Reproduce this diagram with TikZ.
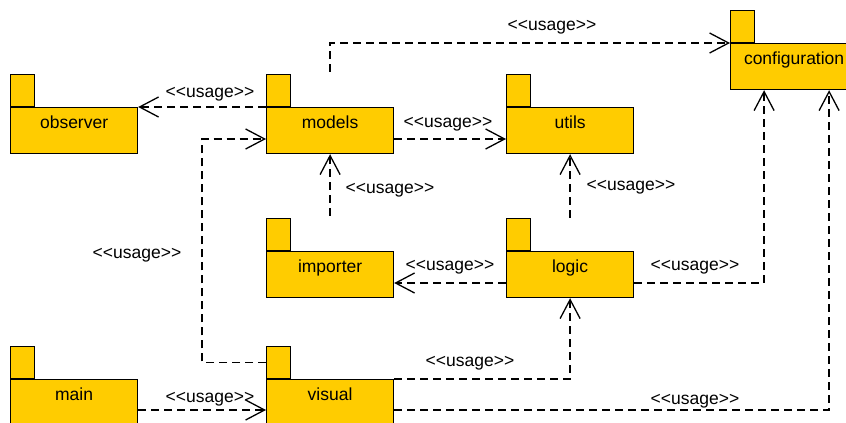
\documentclass[tikz,border=0pt]{standalone}
\usepackage{fontspec}
\setmainfont{Liberation Sans}
\usetikzlibrary{arrows.meta}

\definecolor{pkgyellow}{RGB}{255,204,0}
\newcommand{\usagetxt}{<\kern0pt<usage>\kern0pt>}

\tikzset{
    pkg/.style={draw, fill=pkgyellow, line width=1.2pt, minimum width=127pt, minimum height=46pt,
        inner sep=0pt, text height=13pt, text depth=17pt, anchor=north west},
    pkgtab/.style={draw, fill=pkgyellow, line width=1.2pt, minimum width=24pt, minimum height=32pt,
        inner sep=0pt, anchor=south west},
    dep/.style={line width=1.3pt, dash pattern=on 8pt off 5pt, -{Straight Barb[length=19pt,width=20pt]}},
    usage/.style={anchor=base, inner sep=0pt}
}

\begin{document}
\begin{tikzpicture}[x=1pt, y=-1pt, font=\fontsize{17.5}{20}\selectfont]
            \clip (0,0) rectangle (846,423);

            % packages
            \node[pkg] (observer) at (10,107) {observer};
            \node[pkgtab] (observer-tab) at (observer.north west) {};
            \node[pkg] (models) at (266,107) {models};
            \node[pkgtab] (models-tab) at (models.north west) {};
            \node[pkg] (utils) at (506,107) {utils};
            \node[pkgtab] (utils-tab) at (utils.north west) {};
            \node[pkg] (configuration) at (730,43) {configuration};
            \node[pkgtab] (configuration-tab) at (configuration.north west) {};
            \node[pkg] (importer) at (266,251) {importer};
            \node[pkgtab] (importer-tab) at (importer.north west) {};
            \node[pkg] (logic) at (506,251) {logic};
            \node[pkgtab] (logic-tab) at (logic.north west) {};
            \node[pkg] (main) at (10,379) {main};
            \node[pkgtab] (main-tab) at (main.north west) {};
            \node[pkg] (visual) at (266,379) {visual};
            \node[pkgtab] (visual-tab) at (visual.north west) {};

            % dependencies
            \draw[dep] (models.north west) -- (observer.north east);
            \draw[dep] ([yshift=2pt]models.north |- models-tab.north) |- (configuration.north west);
            \draw[dep] ([yshift=-32pt]models.north east) -- ([yshift=-32pt]utils.north west);
            \draw[dep] ([yshift=2pt]importer.north |- importer-tab.north) -- (models.south);
            \draw[dep] (logic.north |- logic-tab.north) -- (utils.south);
            \draw[dep] ([yshift=-32pt]logic.north west) -- ([yshift=-32pt]importer.north east);
            \draw[dep] ([yshift=-32pt]logic.north east) -| ([xshift=-30pt]configuration.south);
            \draw[dep] (visual-tab.west) -- ++(-64,0) |- ([yshift=-32pt]models.north west);
            \draw[dep] ([yshift=-31pt]main.north east) -- ([yshift=-31pt]visual.north west);
            \draw[dep] (visual.north east) -| (logic.south);
            \draw[dep] ([yshift=-31pt]visual.north east) -| ([xshift=35pt]configuration.south);

            % stereotypes
            \node[usage] (lbl-observer) at (210,97) {\usagetxt};
            \node[usage] (lbl-configuration) at (552,30) {\usagetxt};
            \node[usage] (lbl-utils) at (448,127) {\usagetxt};
            \node[usage] (lbl-importer-models) at (390,193) {\usagetxt};
            \node[usage] (lbl-logic-utils) at (631,190) {\usagetxt};
            \node[usage] (lbl-logic-importer) at (450,270) {\usagetxt};
            \node[usage] (lbl-logic-configuration) at (695,270) {\usagetxt};
            \node[usage] (lbl-visual-models) at (137,258) {\usagetxt};
            \node[usage] (lbl-main-visual) at (210,402) {\usagetxt};
            \node[usage] (lbl-visual-logic) at (470,366) {\usagetxt};
            \node[usage] (lbl-visual-configuration) at (695,404) {\usagetxt};
\end{tikzpicture}
\end{document}
